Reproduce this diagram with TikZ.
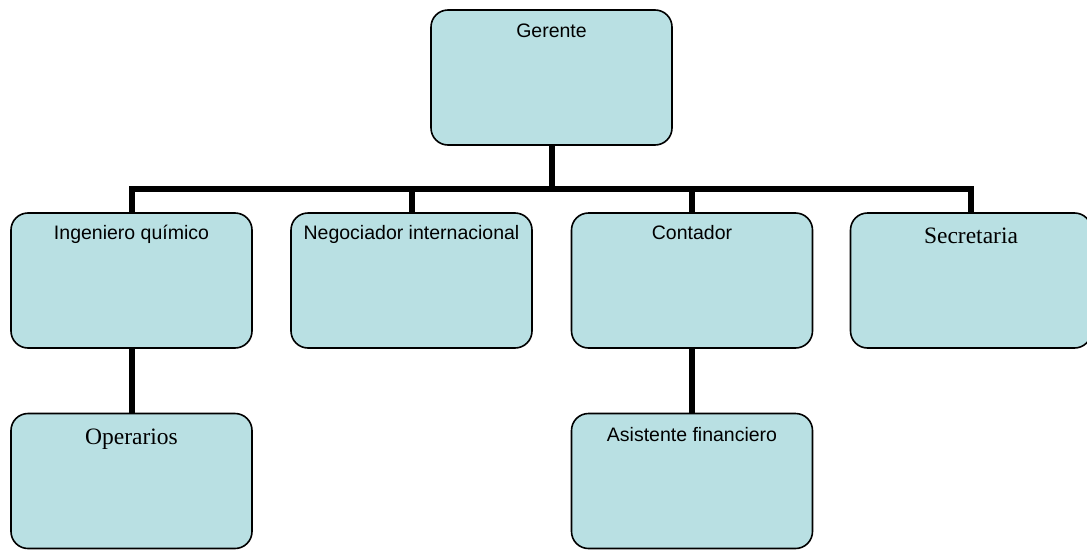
\documentclass[tikz,border=0pt]{standalone}
\usepackage{fontspec}
\setmainfont{Liberation Serif}
\newfontfamily\arialf{Liberation Sans}
\definecolor{boxfill}{HTML}{B9E0E3}
\tikzset{
  orgbox/.style={draw=black, line width=1.6pt, fill=boxfill, rounded corners=17pt,
    minimum width=241pt, minimum height=135pt, inner sep=0pt, outer sep=0pt},
  sanslbl/.style={anchor=base, inner sep=0pt, font=\arialf\fontsize{19.5}{23}\selectfont},
  seriflbl/.style={anchor=base, inner sep=0pt, font=\fontsize{23.5}{27}\selectfont},
  conn/.style={draw=black, line width=6pt, line join=miter}
}
\begin{document}
\begin{tikzpicture}[x=1pt, y=-1pt]
\useasboundingbox (0,0) rectangle (1087,549);
% boxes
\node[orgbox] (ger) at (551.5,77.5) {};
\node[orgbox] (ing) at (131.5,280.5) {};
\node[orgbox] (neg) at (411.5,280.5) {};
\node[orgbox] (con) at (692,280.5) {};
\node[orgbox] (sec) at (971,280.5) {};
\node[orgbox] (ope) at (131.5,481) {};
\node[orgbox] (asi) at (692,481) {};
% labels
\node[sanslbl] (gerl) at ([yshift=-27pt]ger.north) {Gerente};
\node[sanslbl] (ingl) at ([yshift=-26pt]ing.north) {Ingeniero químico};
\node[sanslbl] (negl) at ([yshift=-26pt]neg.north) {Negociador internacional};
\node[sanslbl] (conl) at ([yshift=-26pt]con.north) {Contador};
\node[seriflbl] (secl) at ([yshift=-30pt]sec.north) {Secretaria};
\node[seriflbl] (opel) at ([yshift=-31pt]ope.north) {Operarios};
\node[sanslbl] (asil) at ([yshift=-28pt]asi.north) {Asistente financiero};
% connectors
\coordinate (bar) at (0,189);
\draw[conn] (ing.north) -- (ing.north |- bar) -- (sec.north |- bar) -- (sec.north);
\draw[conn] (ger.south) -- (ger.south |- bar);
\draw[conn] (neg.north) -- (neg.north |- bar);
\draw[conn] (con.north) -- (con.north |- bar);
\draw[conn] (ing.south) -- (ope.north);
\draw[conn] (con.south) -- (asi.north);
\end{tikzpicture}
\end{document}
